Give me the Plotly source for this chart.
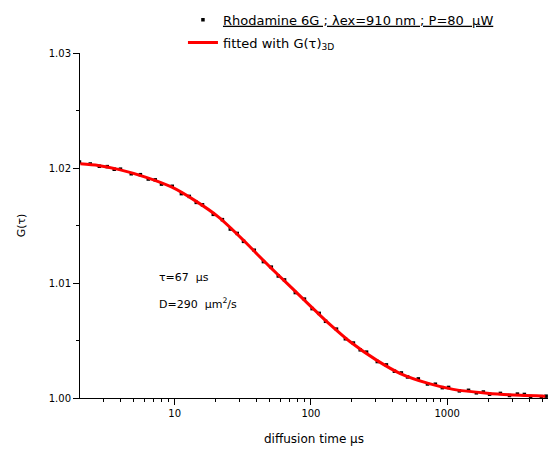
import plotly.graph_objects as go

# ---- data ----
data_tau = [2.0, 2.4, 2.8, 3.2, 3.6, 4.0, 4.8, 5.6, 6.4, 7.2, 8.0, 9.6, 11.2, 12.8,
            14.4, 16, 19.2, 22.4, 25.6, 28.8, 32, 38.4, 44.8, 51.2, 57.6, 64, 76.8,
            89.6, 102, 115, 128, 154, 179, 205, 230, 256, 307, 358, 410, 461, 512,
            614, 717, 819, 922, 1024, 1229, 1434, 1638, 1843, 2048, 2458, 2867,
            3277, 3686, 4096, 4915, 5324]
data_G = [1.02052, 1.02035, 1.02015, 1.02012, 1.01989, 1.01990, 1.01950, 1.01942,
          1.01904, 1.01897, 1.01860, 1.01841, 1.01777, 1.01753, 1.01701, 1.01680,
          1.01597, 1.01551, 1.01469, 1.01431, 1.01362, 1.01285, 1.01186, 1.01138,
          1.01061, 1.01027, 1.00917, 1.00860, 1.00777, 1.00736, 1.00667, 1.00599,
          1.00515, 1.00478, 1.00419, 1.00399, 1.00317, 1.00288, 1.00233, 1.00218,
          1.00183, 1.00166, 1.00122, 1.00120, 1.00090, 1.00092, 1.00062, 1.00067,
          1.00045, 1.00052, 1.00033, 1.00040, 1.00022, 1.00034, 1.00031, 1.00013,
          1.00012, 1.00016]

fit_tau = [2.03, 2.75, 3.86, 6.10, 9.46, 14.2, 20.9, 32.4, 40.5, 50.4, 67.1, 87.9,
           111, 139, 194, 307, 453, 727, 1109, 1968, 3436, 5250]
fit_G = [1.02036, 1.02021, 1.01988, 1.01921, 1.01835, 1.01714, 1.01575, 1.01365,
         1.01248, 1.01136, 1.00994, 1.00860, 1.00744, 1.00636, 1.00489, 1.00325,
         1.00213, 1.00127, 1.00075, 1.00041, 1.00023, 1.00016]

x_tickvals = [10, 100, 1000]
x_ticktext = ["10", "100", "1000"]
y_tickvals = [1.00, 1.01, 1.02, 1.03]
y_ticktext = ["1.00", "1.01", "1.02", "1.03"]

data_name = "<u>Rhodamine 6G ; \u03bbex=910 nm ; P=80  \u00b5W</u>"
fit_name = "fitted with G(\u03c4)<sub>3D</sub>"
note_tau = "\u03c4=67  \u00b5s"
note_D = "D=290  \u00b5m<sup>2</sup>/s"

FONT = "DejaVu Sans"

fig = go.Figure()
fig.add_trace(go.Scatter(
    x=data_tau, y=data_G, mode="markers", name=data_name, legendgroup="a",
    marker=dict(symbol="square", size=3.5, color="black", line=dict(width=0)),
))
fig.add_trace(go.Scatter(
    x=fit_tau, y=fit_G, mode="lines", name=fit_name, legendgroup="b",
    line=dict(color="#ff0000", width=3, shape="spline", smoothing=0.8),
))

fig.add_annotation(x=0.165, y=0.35, xref="paper", yref="paper", text=note_tau,
                   showarrow=False, xanchor="left", yanchor="middle",
                   font=dict(family=FONT, size=11, color="black"))
fig.add_annotation(x=0.165, y=0.274, xref="paper", yref="paper", text=note_D,
                   showarrow=False, xanchor="left", yanchor="middle",
                   font=dict(family=FONT, size=11, color="black"))

fig.update_layout(
    width=553, height=451,
    margin=dict(l=80, r=5, t=50, b=53),
    paper_bgcolor="white", plot_bgcolor="white",
    font=dict(family=FONT, color="black"),
    showlegend=True,
    legend=dict(x=0.22, y=1.14, xanchor="left", yanchor="top",
                bgcolor="rgba(0,0,0,0)", tracegroupgap=3,
                font=dict(family=FONT, size=13, color="black")),
    xaxis=dict(
        type="log", range=[0.305, 3.74],
        showline=True, linecolor="black", linewidth=1, mirror=False,
        showgrid=False, zeroline=False,
        ticks="outside", ticklen=6, tickwidth=1, tickcolor="black",
        tickvals=x_tickvals, ticktext=x_ticktext,
        tickfont=dict(family=FONT, size=10),
        minor=dict(ticks="outside", ticklen=3, tickcolor="black", dtick="D1", showgrid=False),
        title=dict(text="diffusion time \u00b5s", font=dict(family=FONT, size=12), standoff=16),
    ),
    yaxis=dict(
        range=[1.0, 1.03],
        showline=True, linecolor="black", linewidth=1, mirror=False,
        showgrid=False, zeroline=False,
        ticks="outside", ticklen=6, tickwidth=1, tickcolor="black",
        tickvals=y_tickvals, ticktext=y_ticktext,
        tickfont=dict(family=FONT, size=10),
        minor=dict(ticks="outside", ticklen=3, tickcolor="black", dtick=0.005, showgrid=False),
        title=dict(text="G(\u03c4)", font=dict(family=FONT, size=11), standoff=20),
    ),
)

fig.write_html("out.html")
